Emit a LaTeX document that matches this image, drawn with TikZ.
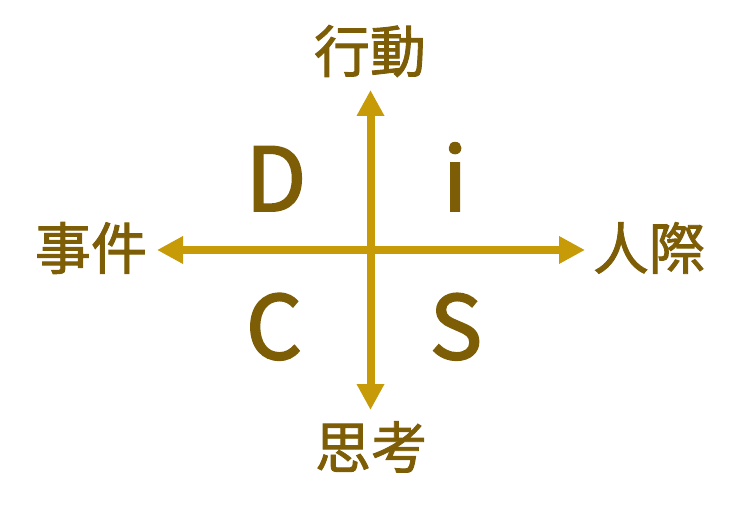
\documentclass[tikz,border=0pt]{standalone}
\usepackage{fontspec}
\setmainfont{Noto Sans CJK TC}
\newfontfamily\boldish[FakeBold=2.2]{Noto Sans CJK TC}
\newfontfamily\cjkboldish[FakeBold=1.6]{Noto Sans CJK TC}
\usetikzlibrary{arrows.meta}
\definecolor{txtc}{HTML}{7D5D06}
\definecolor{arrc}{HTML}{C79A08}
\tikzset{
  axis/.style={draw=arrc, line width=8pt, {Triangle[length=26pt,width=26pt]}-{Triangle[length=26pt,width=26pt]}},
  letter/.style={text=txtc, font=\boldish\fontsize{88}{88}\selectfont, inner sep=0pt, anchor=base},
  cjklabel/.style={text=txtc, font=\cjkboldish\fontsize{56}{56}\selectfont, inner sep=0pt, anchor=center}
}
\begin{document}
\begin{tikzpicture}[x=1pt,y=-1pt]
\useasboundingbox (0,0) rectangle (740,516);
\coordinate (top) at (370.5,90);
\coordinate (bot) at (370.5,410);
\coordinate (lft) at (157,250);
\coordinate (rgt) at (585,250);
\draw[axis] (lft) -- (rgt);
\draw[axis] (top) -- (bot);
\node[letter] (D) at (276,211) {D};
\node[letter] (I) at (455,211) {i};
\node[letter] (C) at (274,359) {C};
\node[letter] (S) at (456,359) {S};
\node[cjklabel] (act) at (370,51) {行動};
\node[cjklabel] (evt) at (91,248) {事件};
\node[cjklabel] (ppl) at (649,248) {人際};
\node[cjklabel] (thk) at (371,447) {思考};
\end{tikzpicture}
\end{document}
